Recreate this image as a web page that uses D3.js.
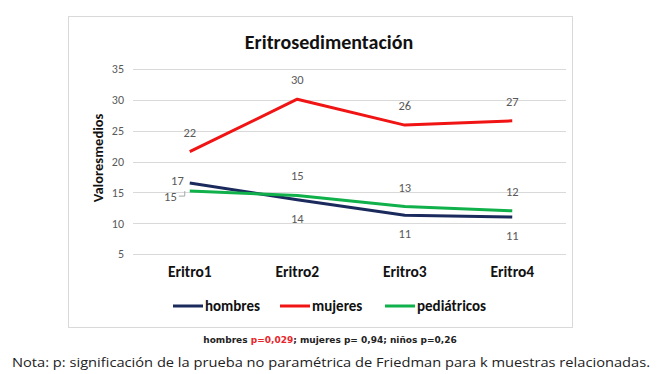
<!DOCTYPE html>
<html>
<head>
<meta charset="utf-8">
<script src="https://cdn.jsdelivr.net/npm/d3@7"></script>
<style>
  body { margin:0; background:#fff; }
  svg { display:block; }
</style>
</head>
<body>
<div id="chart"></div>
<script>
// Eritrosedimentación: medias por grupo en 4 mediciones
const categories = ["Eritro1","Eritro2","Eritro3","Eritro4"];
const hombres = [16.5, 13.8, 11.3, 11.0];
const mujeres = [21.6, 30.1, 25.9, 26.6];
const pediatricos = [15.2, 14.5, 12.7, 12.0];
const yTicks = [5,10,15,20,25,30,35];

const series = [
  { name:"hombres", values:hombres, color:"#1b2a5c", pos:["left","below","below","below"] },
  { name:"mujeres", values:mujeres, color:"#f01414", pos:["above","above","above","above"] },
  { name:"pediátricos", values:pediatricos, color:"#10b04a", pos:["leftlow","above","above","above"] }
];

const W=659, H=374;
const svg = d3.select("#chart").append("svg").attr("width",W).attr("height",H);
const font = "Calibri, Carlito, 'Open Sans', sans-serif";

// marco
svg.append("rect").attr("x",68.5).attr("y",16.5).attr("width",504).attr("height",311)
  .attr("fill","#fff").attr("stroke","#d9d9d9");

svg.append("text").attr("x",329).attr("y",49).attr("text-anchor","middle")
  .attr("font-family",font).attr("font-weight","bold").attr("font-size",20).attr("fill","#111")
  .text("Eritrosedimentación");

const x = d3.scaleBand().domain(categories).range([136,566]);
const y = d3.scaleLinear().domain([5,35]).range([254,69]);

// rejilla
svg.append("g").selectAll("line").data(yTicks).join("line")
  .attr("x1",133).attr("x2",566).attr("y1",d=>Math.round(y(d))+0.5).attr("y2",d=>Math.round(y(d))+0.5)
  .attr("stroke","#d9d9d9");
const ay = d3.axisLeft(y).tickValues(yTicks).tickSize(0).tickPadding(0);
svg.append("g").attr("transform","translate(124,0)").call(ay)
  .call(g=>g.select(".domain").remove())
  .call(g=>g.selectAll("text").attr("font-family",font).attr("font-size",12).attr("fill","#595959"));

svg.append("text").attr("transform","translate(103,158) rotate(-90)").attr("text-anchor","middle")
  .attr("font-family",font).attr("font-weight","bold").attr("font-size",14.5).attr("fill","#111")
  .attr("word-spacing",-3)
  .text("Valores medios");

const ax = d3.axisBottom(x).tickSize(0).tickPadding(0);
svg.append("g").attr("transform","translate(0,266)").call(ax)
  .call(g=>g.select(".domain").remove())
  .call(g=>g.selectAll("text").attr("font-family",font).attr("font-weight","bold").attr("font-size",15.5).attr("fill","#111"));

const cx = c => x(c)+x.bandwidth()/2;
const line = d3.line().x((d,i)=>cx(categories[i])).y(d=>y(d));

series.forEach(s=>{
  svg.append("path").datum(s.values).attr("d",line).attr("fill","none")
    .attr("stroke",s.color).attr("stroke-width",3).attr("stroke-linejoin","round");
});

// etiquetas de datos
series.forEach(s=>{
  s.values.forEach((v,i)=>{
    const px = cx(categories[i]), py = y(v);
    let tx=px, ty=py-15, anchor="middle";
    if(s.pos[i]==="below"){ ty=py+23; }
    if(s.pos[i]==="left"){ tx=px-6; ty=py+2; anchor="end"; }
    if(s.pos[i]==="leftlow"){ tx=px-13; ty=py+10; anchor="end";
      svg.append("path").attr("d",`M${px-11},${py+5}H${px-5}V${py}`).attr("fill","none").attr("stroke","#a6a6a6");
    }
    svg.append("text").attr("x",tx).attr("y",ty).attr("text-anchor",anchor)
      .attr("font-family",font).attr("font-size",12.5).attr("fill","#595959")
      .text(d3.format(".0f")(v));
  });
});

// leyenda
const legX = [173, 280, 385];
series.forEach((s,i)=>{
  const g = svg.append("g").attr("transform",`translate(${legX[i]},306)`);
  g.append("line").attr("x1",0).attr("x2",30).attr("y1",0).attr("y2",0).attr("stroke",s.color).attr("stroke-width",3);
  g.append("text").attr("x",32).attr("y",5).attr("font-family",font).attr("font-weight","bold")
    .attr("font-size",15).attr("fill","#111").text(s.name);
});

// notas
const p = svg.append("text").attr("x",330).attr("y",343).attr("text-anchor","middle")
  .attr("font-family","Verdana, 'DejaVu Sans', sans-serif").attr("font-weight","bold").attr("font-size",9).attr("fill","#222");
p.append("tspan").text("hombres ");
p.append("tspan").attr("fill","#e8262a").text("p=0,029");
p.append("tspan").text("; mujeres p= 0,94; niños p=0,26");

svg.append("text").attr("x",331).attr("y",367).attr("text-anchor","middle")
  .attr("font-family","'Open Sans', sans-serif").attr("font-size",12.5).attr("fill","#222")
  .attr("textLength",638).attr("lengthAdjust","spacingAndGlyphs")
  .text("Nota: p: significación de la prueba no paramétrica de Friedman para k muestras relacionadas.");
</script>
</body>
</html>
